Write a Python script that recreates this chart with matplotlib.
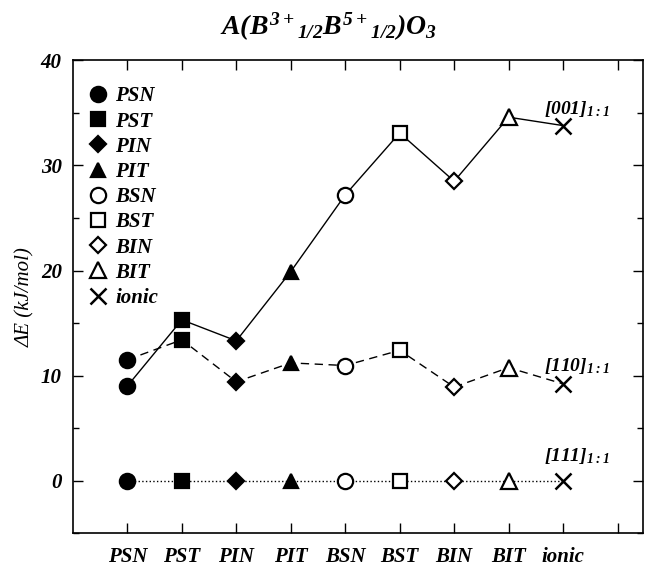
import matplotlib
matplotlib.use('Agg')
import matplotlib.pyplot as plt
from matplotlib.lines import Line2D
from matplotlib.ticker import MultipleLocator

plt.rcParams['font.family'] = ['Liberation Serif', 'DejaVu Serif']
plt.rcParams['mathtext.fontset'] = 'custom'
plt.rcParams['mathtext.rm'] = 'Liberation Serif:bold:italic'
plt.rcParams['mathtext.it'] = 'Liberation Serif:bold:italic'
plt.rcParams['mathtext.bf'] = 'Liberation Serif:bold:italic'

compounds = ['PSN', 'PST', 'PIN', 'PIT', 'BSN', 'BST', 'BIN', 'BIT', 'ionic']
e_001 = [9.0, 15.3, 13.3, 19.9, 27.2, 33.1, 28.5, 34.6, 33.8]
e_110 = [11.5, 13.4, 9.4, 11.2, 10.95, 12.4, 8.9, 10.75, 9.2]
e_111 = [0, 0, 0, 0, 0, 0, 0, 0, 0]
order_labels = [r'$[001]_{1:1}$', r'$[110]_{1:1}$', r'$[111]_{1:1}$']

# marker, filled?, size
styles = [('o', True, 11), ('s', True, 10), ('D', True, 8), ('^', True, 10),
          ('o', False, 11), ('s', False, 10), ('D', False, 8), ('^', False, 11),
          ('x', True, 11)]

x = list(range(1, len(compounds) + 1))

fig = plt.figure(figsize=(6.51, 5.68), dpi=100)
ax = fig.add_axes([0.112, 0.0616, 0.876, 0.8319])

ax.plot(x, e_001, '-', color='black', lw=1.0, zorder=1)
ax.plot(x, e_110, '--', color='black', lw=1.0, dashes=(6, 4), zorder=1)
ax.plot(x, e_111, ':', color='black', lw=1.0, zorder=1)

for series in (e_001, e_110, e_111):
    for xi, yi, (mk, filled, ms) in zip(x, series, styles):
        ax.plot(xi, yi, marker=mk, ms=ms, color='black',
                mfc='black' if filled else 'white', mec='black',
                mew=1.6 if mk != 'x' else 1.8, ls='none', zorder=3)

ax.text(8.65, 34.4, order_labels[0], fontsize=14, ha='left', va='bottom')
ax.text(8.65, 10.0, order_labels[1], fontsize=14, ha='left', va='bottom')
ax.text(8.65, 1.4, order_labels[2], fontsize=14, ha='left', va='bottom')

handles = []
for name, (mk, filled, ms) in zip(compounds, styles):
    handles.append(Line2D([], [], marker=mk, ms=ms, color='black', ls='none',
                          mfc='black' if filled else 'white', mec='black',
                          mew=1.6 if mk != 'x' else 1.8, label=name))
leg = ax.legend(handles=handles, loc='upper left', frameon=False,
                bbox_to_anchor=(-0.01, 0.985), handletextpad=0.2,
                handlelength=1.2, labelspacing=0.25,
                prop={'family': 'Liberation Serif', 'weight': 'bold',
                      'style': 'italic', 'size': 15})

ax.set_xlim(0, 10.47)
ax.set_ylim(-5, 40)
ax.set_xticks(list(range(1, 11)))
ax.set_xticklabels(compounds + [''])
ax.yaxis.set_major_locator(MultipleLocator(10))
ax.yaxis.set_minor_locator(MultipleLocator(5))
ax.tick_params(which='both', direction='in', top=True, right=True)
ax.tick_params(which='major', length=7, width=1)
ax.tick_params(which='minor', length=4, width=1)
ax.tick_params(axis='x', pad=10)
ax.tick_params(axis='y', pad=8)
for lab in ax.get_xticklabels() + ax.get_yticklabels():
    lab.set_fontweight('bold')
    lab.set_fontstyle('italic')
    lab.set_fontsize(15)
for sp in ax.spines.values():
    sp.set_linewidth(1.2)

ax.set_ylabel(r'ΔE (kJ/mol)', fontsize=15, fontstyle='italic', labelpad=4)
fig.text(0.505, 0.952, r'$A(B^{3+}{}_{1/2}B^{5+}{}_{1/2})O_3$', fontsize=20,
         ha='center', va='center')

fig.savefig('out.png', dpi=100)
